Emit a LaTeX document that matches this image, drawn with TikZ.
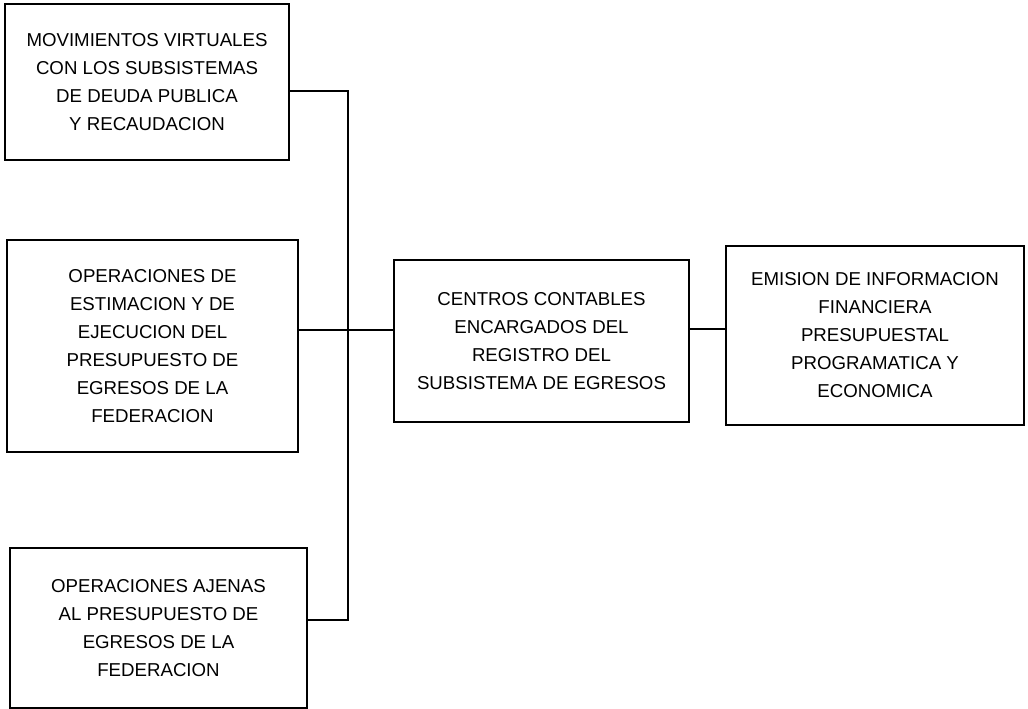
\documentclass[tikz,border=0pt]{standalone}
\usepackage{fontspec}
\setmainfont{Liberation Sans}
\begin{document}
\begin{tikzpicture}[x=0.75pt,y=-0.75pt,font=\fontsize{14}{21}\selectfont]
     \tikzstyle{box}=[draw,line width=0.9pt,inner sep=0pt,align=center]
     \tikzstyle{link}=[draw,line width=0.9pt]
     \tikzstyle{boldlink}=[draw,line width=1.7pt]
     \useasboundingbox (0,0) rectangle (1028,709);
     \node[box,minimum width=213pt,minimum height=117pt] (mov) at (147,82)
      {MOVIMIENTOS VIRTUALES\\CON LOS SUBSISTEMAS\\DE DEUDA PUBLICA\\Y RECAUDACION};
     \node[box,minimum width=218.25pt,minimum height=159pt] (est) at (152.5,346)
      {OPERACIONES DE\\ESTIMACION Y DE\\EJECUCION DEL\\PRESUPUESTO DE\\EGRESOS DE LA\\FEDERACION};
     \node[box,minimum width=222.75pt,minimum height=120pt] (ajenas) at (158.5,628)
      {OPERACIONES AJENAS\\AL PRESUPUESTO DE\\EGRESOS DE LA\\FEDERACION};
     \node[box,minimum width=221.25pt,minimum height=121.5pt] (cc) at (541.5,341)
      {CENTROS CONTABLES\\ENCARGADOS DEL\\REGISTRO DEL\\SUBSISTEMA DE EGRESOS};
     \node[box,minimum width=223.5pt,minimum height=134.25pt] (emi) at (875,335.5)
      {EMISION DE INFORMACION\\FINANCIERA\\PRESUPUESTAL\\PROGRAMATICA Y\\ECONOMICA};
     \coordinate (bustop) at (348,91);
     \coordinate (busmid) at (348,330);
     \coordinate (busbot) at (348,620);
     \coordinate (outlev) at (700,329);
     \draw[link] (mov.east |- bustop) -- (bustop) -- (busbot) -- (ajenas.east |- busbot);
     \draw[link] (est.east |- busmid) -- (cc.west |- busmid);
     \draw[boldlink] (cc.east |- outlev) -- (emi.west |- outlev);
\end{tikzpicture}
\end{document}
